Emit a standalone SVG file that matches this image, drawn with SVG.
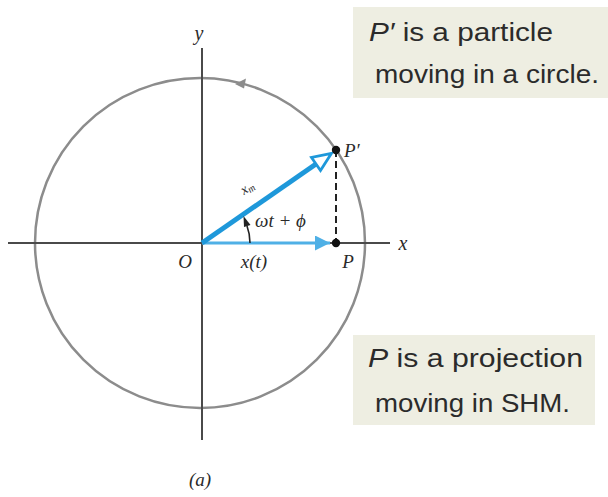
<svg xmlns="http://www.w3.org/2000/svg" width="608" height="497" viewBox="0 0 608 497">
<style>
.axis{stroke:#4a4a4a;stroke-width:2;fill:none}
.circ{stroke:#8c8c8c;stroke-width:2.5;fill:none}
.lbl{font-family:"Liberation Serif","DejaVu Serif",serif;font-style:italic;fill:#2a2a2a}
.box{fill:#eeeee2}
.note{font-family:"Liberation Sans","Arial",sans-serif;font-size:26px;fill:#2b2b2b}
</style>
<defs>
<marker id="filled" viewBox="0 0 10 10" refX="10" refY="5" markerWidth="5" markerHeight="5" orient="auto" markerUnits="strokeWidth">
<path d="M0,0 L10,5 L0,10 z" fill="#4fb0e6"/>
</marker>
</defs>
<rect width="608" height="497" fill="#ffffff"/>
<g id="circle">
<circle class="circ" cx="200" cy="243" r="165"/>
<path d="M235,84 L246,78.5 L244,88.5 z" fill="#8c8c8c"/>
</g>
<g id="axes">
<line class="axis" x1="8" y1="243" x2="390" y2="243"/>
<line class="axis" x1="202" y1="48" x2="202" y2="440"/>
<text class="lbl" x="199" y="40" font-size="20" text-anchor="middle">y</text>
<text class="lbl" x="403" y="250" font-size="20" text-anchor="middle">x</text>
<text class="lbl" x="185" y="268" font-size="19" text-anchor="middle">O</text>
</g>
<g id="connectors">
<line x1="336" y1="150" x2="336" y2="243" stroke="#222" stroke-width="2" stroke-dasharray="7,4"/>
<line x1="202" y1="243" x2="330" y2="243" stroke="#4fb0e6" stroke-width="3" marker-end="url(#filled)"/>
<line x1="202" y1="243" x2="316" y2="164" stroke="#1e98da" stroke-width="5"/>
<path d="M331.5,153.3 L311.5,157.5 L320.5,170.5 z" fill="#ffffff" stroke="#1e98da" stroke-width="2.8" stroke-linejoin="miter"/>
<path d="M250,243 A48,48 0 0 0 247,226" fill="none" stroke="#222" stroke-width="1.6"/>
<path d="M243.5,216 L250.5,225 L244,227 z" fill="#222"/>
</g>
<g id="P-prime">
<circle cx="336" cy="150" r="4.2" fill="#111"/>
<text class="lbl" x="344" y="157" font-size="19">P′</text>
</g>
<g id="P">
<circle cx="336" cy="243" r="4.2" fill="#111"/>
<text class="lbl" x="348" y="268" font-size="19" text-anchor="middle">P</text>
</g>
<g id="labels">
<text class="lbl" x="254" y="268" font-size="19" text-anchor="middle">x(t)</text>
<text class="lbl" x="255" y="227" font-size="19">ωt + ϕ</text>
<text class="lbl" font-size="14" transform="translate(244,195) rotate(-34)">x<tspan font-size="10" dy="2">m</tspan></text>
<text class="lbl" x="200" y="486" font-size="19" text-anchor="middle" font-style="normal">(<tspan font-style="italic">a</tspan>)</text>
</g>
<g id="note-circle">
<rect class="box" x="353" y="7" width="255" height="91"/>
<text class="note" x="369" y="41" textLength="184" lengthAdjust="spacingAndGlyphs"><tspan font-style="italic">P′</tspan> is a particle</text>
<text class="note" x="375" y="83" textLength="224" lengthAdjust="spacingAndGlyphs">moving in a circle.</text>
</g>
<g id="note-shm">
<rect class="box" x="353" y="335" width="242" height="90"/>
<text class="note" x="368" y="367" textLength="215" lengthAdjust="spacingAndGlyphs"><tspan font-style="italic">P</tspan> is a projection</text>
<text class="note" x="375" y="412" textLength="195" lengthAdjust="spacingAndGlyphs">moving in SHM.</text>
</g>
</svg>
